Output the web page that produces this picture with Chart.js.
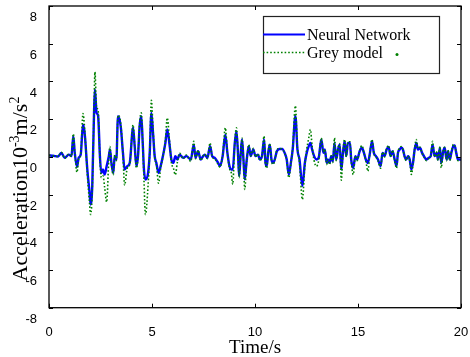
<!DOCTYPE html>
<html>
<head>
<meta charset="utf-8">
<script src="https://cdn.jsdelivr.net/npm/chart.js@4.4.0/dist/chart.umd.min.js"></script>
<style>
  html, body { margin: 0; padding: 0; background: #fff; }
  #wrap { width: 470px; height: 357px; }
</style>
</head>
<body>
<div id="wrap"><canvas id="accChart" width="470" height="357"></canvas></div>
<script>
// time axis (s)
const timeS = [
  0, 0.20, 0.44, 0.60, 0.76, 0.96, 1.09, 1.18, 1.25, 1.36, 1.44, 1.54, 1.65, 1.73, 1.86, 1.97, 2.02, 2.10, 2.19, 2.23,
  2.31, 2.38, 2.48, 2.54, 2.62, 2.70, 2.80, 2.90, 2.96, 3.03, 3.12, 3.19, 3.27, 3.35, 3.48, 3.59, 3.67, 3.80, 3.92, 4.08,
  4.16, 4.24, 4.32, 4.40, 4.48, 4.55, 4.61, 4.68, 4.81, 4.89, 4.97, 5.05, 5.13, 5.21, 5.32, 5.42, 5.53, 5.65, 5.74, 5.86,
  5.94, 6.04, 6.13, 6.23, 6.34, 6.51, 6.67, 6.88, 7.03, 7.11, 7.24, 7.36, 7.48, 7.56, 7.69, 7.82, 7.92, 8.04, 8.21, 8.30,
  8.43, 8.56, 8.66, 8.76, 8.85, 8.92, 9.02, 9.10, 9.18, 9.23, 9.31, 9.37, 9.44, 9.50, 9.60, 9.70, 9.79, 9.92, 10.02, 10.15,
  10.23, 10.34, 10.44, 10.51, 10.57, 10.64, 10.72, 10.80, 10.88, 10.96, 11.06, 11.19, 11.32, 11.44, 11.54, 11.64, 11.74, 11.83, 11.96, 12.06,
  12.16, 12.30, 12.42, 12.51, 12.61, 12.69, 12.77, 12.87, 12.98, 13.09, 13.22, 13.32, 13.39, 13.48, 13.54, 13.62, 13.70, 13.78, 13.86, 13.94,
  14.03, 14.11, 14.19, 14.27, 14.35, 14.43, 14.51, 14.61, 14.67, 14.77, 14.87, 14.96, 15.08, 15.19, 15.29, 15.38, 15.48, 15.58, 15.68, 15.77,
  15.87, 15.97, 16.10, 16.19, 16.29, 16.39, 16.49, 16.58, 16.68, 16.78, 16.87, 16.94, 17.02, 17.10, 17.18, 17.26, 17.34, 17.43, 17.51, 17.59,
  17.67, 17.75, 17.83, 17.91, 18.01, 18.11, 18.20, 18.32, 18.43, 18.53, 18.62, 18.72, 18.82, 18.88, 18.98, 19.04, 19.14, 19.21, 19.30, 19.37,
  19.46, 19.53, 19.63, 19.69, 19.77, 19.85, 20.00
];

// Neural Network output (10^-3 m/s^2)
const neuralNet = [
  0.08, 0.06, 0.02, 0.21, -0.05, 0.12, 0.04, 1.10, 0.21, -0.53, -0.05, 0.12, 1.71, 1.27, -0.67, -1.91, -2.53, -1.55, 2.51, 3.57,
  2.33, 2.20, -0.14, -0.85, -0.67, -0.94, -0.49, 0.00, 0.39, -0.32, -0.85, 0.04, -0.14, 2.16, 1.63, 0.21, -0.67, -0.49, -0.32, 1.54,
  0.57, -0.49, 0.04, 1.63, 2.16, 0.74, -0.67, -1.20, -0.85, 0.21, 2.33, 1.27, 0.04, -0.32, -0.85, -0.49, 0.04, 0.74, 1.45, 0.57,
  -0.14, -0.32, 0.04, -0.14, 0.12, -0.05, 0.04, -0.14, 0.65, -0.05, 0.30, -0.14, 0.04, 0.12, -0.05, 0.57, 0.04, -0.05, -0.32, -0.49,
  0.04, 1.18, 0.21, -0.49, -0.67, -0.67, 0.74, 1.36, 0.04, -1.02, 0.21, 0.92, -0.14, -1.20, -0.14, 0.57, 0.04, 0.39, 0.04, 0.12,
  -0.14, 0.04, 0.92, -0.32, -0.49, 0.21, 0.65, -0.14, -0.32, -0.14, 0.30, 0.42, 0.42, 0.21, -0.14, -0.94, -0.32, 0.39, 2.16, 0.39,
  -0.14, -1.55, -0.32, 0.21, 0.57, 0.74, 0.39, 0.04, -0.14, -0.05, 0.92, 0.21, 0.39, -0.32, -0.14, -0.32, 0.04, -0.23, 0.74, -0.14,
  0.39, 0.65, -0.67, 0.21, 0.83, 0.04, 0.74, 0.74, -0.14, -0.58, 0.04, -0.14, 0.30, 0.48, 0.21, -0.14, -0.32, 0.21, 0.83, 0.21,
  0.04, -0.14, -0.49, 0.21, 0.04, 0.39, 0.53, 0.04, 0.30, -0.14, -0.49, 0.21, 0.39, 0.48, 0.39, 0.04, -0.14, 0.04, -0.14, -0.67,
  -0.32, 0.39, 0.74, 0.39, 0.48, 0.21, 0.04, -0.14, -0.05, 0.04, 0.65, 0.04, 0.21, -0.14, 0.48, -0.32, 0.30, 0.48, -0.14, 0.30,
  -0.14, 0.21, 0.57, 0.60, 0.21, -0.14, -0.14
];

// Grey model output (10^-3 m/s^2)
const greyModel = [
  0.08, 0.05, 0.02, 0.24, -0.07, 0.14, 0.02, 1.22, 0.25, -0.82, -0.10, 0.15, 2.30, 1.50, -0.90, -2.50, -3.06, -1.80, 2.90, 4.50,
  2.60, 2.50, -0.30, -1.10, -1.00, -1.60, -2.40, -0.20, 0.55, -0.40, -0.95, 0.10, -0.20, 2.20, 1.80, 0.10, -1.50, -0.60, -0.40, 1.70,
  0.60, -0.60, 0.00, 1.80, 2.33, 0.70, -1.20, -3.06, -1.50, 0.30, 3.00, 1.50, 0.00, -0.40, -1.40, -0.60, 0.00, 0.90, 2.07, 0.70,
  -0.30, -0.60, -0.95, -0.30, 0.20, -0.10, 0.10, -0.25, 0.83, -0.10, 0.35, -0.20, 0.05, 0.15, -0.10, 0.74, 0.00, -0.10, -0.40, -0.55,
  0.10, 1.54, 0.20, -0.60, -0.85, -1.45, 0.80, 1.54, 0.00, -1.10, 0.25, 1.00, -0.20, -1.73, -0.20, 0.65, 0.05, 0.45, 0.00, 0.15,
  -0.20, 0.05, 1.10, -0.40, -0.60, 0.25, 0.70, -0.20, -0.40, -0.20, 0.35, 0.45, 0.40, 0.20, -0.20, -1.10, -0.40, 0.50, 2.70, 0.50,
  -0.30, -2.26, -0.50, 0.40, 1.00, 1.45, 0.60, -0.20, -0.50, -0.20, 1.00, 0.25, 0.40, -0.40, -0.15, -0.40, 0.05, -0.30, 1.00, -0.20,
  0.45, 0.70, -1.24, 0.25, 0.92, 0.00, 0.80, 0.80, -0.20, -0.94, 0.05, -0.20, 0.35, 0.60, 0.20, -0.20, -0.76, 0.25, 0.92, 0.20,
  0.00, -0.20, -0.60, 0.25, 0.00, 0.45, 0.60, 0.00, 0.35, -0.20, -0.60, 0.25, 0.45, 0.55, 0.40, 0.00, -0.20, 0.05, -0.20, -0.94,
  -0.40, 0.45, 0.92, 0.45, 0.50, 0.20, 0.00, -0.20, -0.10, 0.05, 0.83, 0.00, 0.25, -0.20, 0.55, -0.58, 0.35, 0.50, -0.20, 0.35,
  -0.20, 0.25, 0.65, 0.60, 0.20, -0.20, -0.15
];

const xTicks = [0, 5, 10, 15, 20];
const yTicks = [-8, -6, -4, -2, 0, 2, 4, 6, 8];
const seriesNames = ['Neural Network', 'Grey model'];

const toPoints = (ys) => timeS.map((t, i) => ({ x: t, y: ys[i] }));

// MATLAB-like box with inward ticks on all four sides
const framePlugin = {
  id: 'frame',
  afterDraw(chart) {
    const { ctx, chartArea: a, scales: { x, y } } = chart;
    ctx.save();
    ctx.strokeStyle = '#000';
    ctx.lineWidth = 1.3;
    ctx.strokeRect(a.left, a.top, a.right - a.left, a.bottom - a.top);
    ctx.lineWidth = 1;
    ctx.beginPath();
    xTicks.forEach(v => {
      const px = Math.round(x.getPixelForValue(v)) + 0.5;
      ctx.moveTo(px, a.bottom); ctx.lineTo(px, a.bottom - 4);
      ctx.moveTo(px, a.top); ctx.lineTo(px, a.top + 4);
    });
    yTicks.forEach(v => {
      const py = Math.round(y.getPixelForValue(v)) + 0.5;
      ctx.moveTo(a.left, py); ctx.lineTo(a.left + 4, py);
      ctx.moveTo(a.right, py); ctx.lineTo(a.right - 4, py);
    });
    ctx.stroke();
    ctx.restore();
  }
};

// legend box drawn in the upper right, like the MATLAB one
const legendPlugin = {
  id: 'boxLegend',
  afterDatasetsDraw(chart) {
    const ctx = chart.ctx;
    const bx = 263, by = 16, bw = 176, bh = 57;
    ctx.save();
    ctx.fillStyle = '#fff';
    ctx.fillRect(bx, by, bw, bh);
    ctx.strokeStyle = '#222';
    ctx.lineWidth = 1.2;
    ctx.strokeRect(bx + 0.5, by + 0.5, bw, bh);

    ctx.strokeStyle = '#0000ff';
    ctx.lineWidth = 2;
    ctx.beginPath(); ctx.moveTo(bx, 34.5); ctx.lineTo(305, 34.5); ctx.stroke();

    ctx.strokeStyle = '#008000';
    ctx.lineWidth = 1.6;
    ctx.setLineDash([1.6, 2]);
    ctx.beginPath(); ctx.moveTo(bx, 52.5); ctx.lineTo(305, 52.5); ctx.stroke();
    ctx.setLineDash([]);

    ctx.fillStyle = '#000';
    ctx.font = '16px "Liberation Serif", "Times New Roman", serif';
    ctx.textBaseline = 'alphabetic';
    ctx.fillText(seriesNames[0], 307, 39.5);
    ctx.fillText(seriesNames[1], 307, 57.5);

    ctx.fillStyle = '#008000';
    ctx.beginPath(); ctx.arc(397, 54.5, 1.5, 0, Math.PI * 2); ctx.fill();
    ctx.restore();
  }
};

// y label with real superscripts
const yTitlePlugin = {
  id: 'yTitle',
  afterDraw(chart) {
    const ctx = chart.ctx;
    const big = '22px "Liberation Serif", "Times New Roman", serif';
    const small = '14px "Liberation Serif", "Times New Roman", serif';
    const parts = [
      { t: 'Acceleration10', f: big, dy: 0 },
      { t: '-3', f: small, dy: -8 },
      { t: 'm/s', f: big, dy: 0 },
      { t: '2', f: small, dy: -8 }
    ];
    let total = 0;
    parts.forEach(p => { ctx.font = p.f; p.w = ctx.measureText(p.t).width; total += p.w; });
    ctx.save();
    ctx.translate(27, 189);
    ctx.rotate(-Math.PI / 2);
    ctx.fillStyle = '#000';
    ctx.textBaseline = 'alphabetic';
    let cx = -total / 2;
    parts.forEach(p => { ctx.font = p.f; ctx.fillText(p.t, cx, p.dy); cx += p.w; });
    ctx.restore();
  }
};

new Chart(document.getElementById('accChart').getContext('2d'), {
  type: 'line',
  data: {
    datasets: [
      {
        label: seriesNames[1],
        data: toPoints(greyModel),
        borderColor: '#008000',
        borderWidth: 1.6,
        borderDash: [1.6, 2],
        pointRadius: 0,
        order: 0
      },
      {
        label: seriesNames[0],
        data: toPoints(neuralNet),
        borderColor: '#0000ff',
        borderWidth: 2.4,
        pointRadius: 0,
        order: 1
      }
    ]
  },
  options: {
    responsive: false,
    animation: false,
    cubicInterpolationMode: 'monotone',
    layout: { padding: { left: 0, right: 9, top: 6, bottom: 0 } },
    plugins: {
      legend: { display: false },
      tooltip: { enabled: false }
    },
    scales: {
      x: {
        type: 'linear',
        min: 0, max: 20,
        grid: { display: false },
        border: { display: false },
        ticks: {
          stepSize: 5,
          padding: 9,
          color: '#000',
          font: { family: '"Liberation Sans", Arial, sans-serif', size: 13 }
        },
        title: {
          display: true,
          text: 'Time/s',
          color: '#000',
          padding: { top: 0, bottom: -2 },
          font: { family: '"Liberation Serif", "Times New Roman", serif', size: 19, lineHeight: 1.2 }
        },
        afterFit(scale) {
          scale.height = 49.3;
          scale.paddingLeft = 0;
          scale.paddingRight = 0;
        }
      },
      y: {
        min: -8, max: 8,
        grid: { display: false },
        border: { display: false },
        ticks: {
          stepSize: 2,
          padding: 4,
          labelOffset: 11.5,
          color: '#000',
          font: { family: '"Liberation Sans", Arial, sans-serif', size: 13 }
        },
        afterFit(scale) {
          scale.width = 49;
          scale.paddingTop = 0;
          scale.paddingBottom = 0;
        }
      }
    }
  },
  plugins: [framePlugin, legendPlugin, yTitlePlugin]
});
</script>
</body>
</html>
